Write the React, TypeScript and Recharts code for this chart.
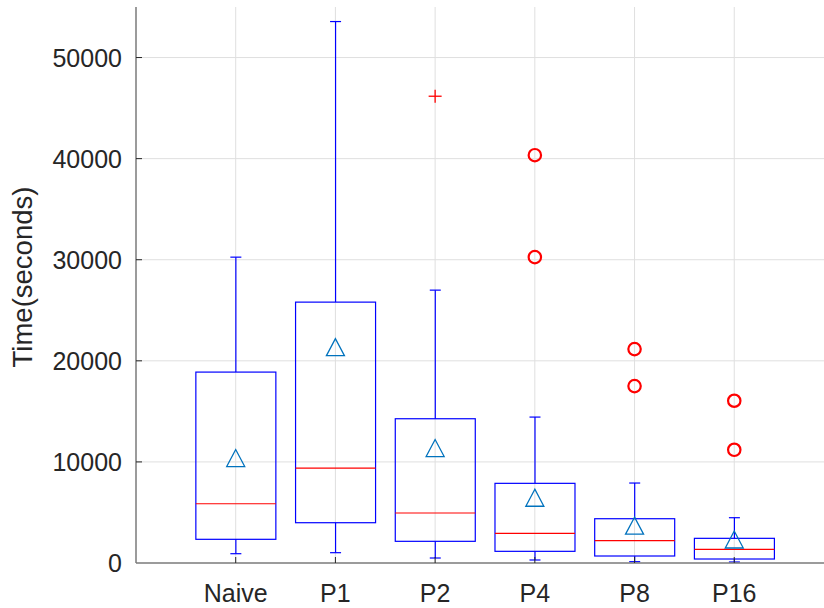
import React from 'react';
import { ComposedChart, Bar, Scatter, XAxis, YAxis, CartesianGrid, Label } from 'recharts';

const categories = ['Naive', 'P1', 'P2', 'P4', 'P8', 'P16'];
const positions = [1, 2, 3, 4, 5, 6];
const whiskerLow = [920, 1020, 494, 297, 130, 99];
const q1 = [2343, 3985, 2145, 1155, 692, 395];
const median = [5863, 9393, 4944, 2935, 2205, 1355];
const q3 = [18885, 25806, 14270, 7880, 4380, 2440];
const whiskerHigh = [30255, 53560, 26992, 14435, 7910, 4480];
const means = [10380, 21357, 11370, 6456, 3690, 2323];

const circleOutlierCats = ['P4', 'P4', 'P8', 'P8', 'P16', 'P16'];
const circleOutlierValues = [40340, 30255, 21160, 17500, 16050, 11200];
const plusOutlierCats = ['P2'];
const plusOutlierValues = [46174];

const yTicks = [0, 10000, 20000, 30000, 40000, 50000];

const FONT = '"Liberation Sans", Arial, Helvetica, sans-serif';
const TEXT = '#262626';
const GRID = '#dfdfdf';

const boxes = categories.map((c, i) => ({
  x: positions[i],
  name: c,
  lo: whiskerLow[i],
  q1: q1[i],
  med: median[i],
  q3: q3[i],
  hi: whiskerHigh[i],
}));
const meanData = categories.map((c, i) => ({ x: positions[i], y: means[i] }));
const posOf = (c: string) => positions[categories.indexOf(c)];
const circleData = circleOutlierCats.map((c, i) => ({ x: posOf(c), y: circleOutlierValues[i] }));
const plusData = plusOutlierCats.map((c, i) => ({ x: posOf(c), y: plusOutlierValues[i] }));

const scaleOf = (axis: any) => {
  const s = axis && axis.scale;
  if (!s) return null;
  if (typeof s === 'function') return (v: number) => s(v);
  if (typeof s.map === 'function') return (v: number) => s.map(v);
  return null;
};

const hGen = (p: any) => {
  const f = scaleOf(p && p.yAxis);
  return f ? yTicks.filter((t) => t !== 0).map((t) => f(t)) : [];
};
const vGen = (p: any) => {
  const f = scaleOf(p && p.xAxis);
  return f ? positions.map((t) => f(t)) : [];
};

const BoxShape = (props: any) => {
  const { x, y, width, height, payload } = props;
  if (x == null || y == null || !payload) return null;
  const top = Math.min(y, y + height);
  const bottom = Math.max(y, y + height);
  const k = (bottom - top) / (payload.hi - payload.lo);
  const Y = (v: number) => bottom - (v - payload.lo) * k;
  const cx = x + width / 2;
  const cap = 5.5;
  const blue = '#0000ff';
  return (
    <g>
      <line x1={cx} x2={cx} y1={Y(payload.hi)} y2={Y(payload.q3)} stroke={blue} strokeWidth={1.2} />
      <line x1={cx} x2={cx} y1={Y(payload.q1)} y2={Y(payload.lo)} stroke={blue} strokeWidth={1.2} />
      <line x1={cx - cap} x2={cx + cap} y1={Y(payload.hi)} y2={Y(payload.hi)} stroke={blue} strokeWidth={1.2} />
      <line x1={cx - cap} x2={cx + cap} y1={Y(payload.lo)} y2={Y(payload.lo)} stroke={blue} strokeWidth={1.2} />
      <rect x={x} y={Y(payload.q3)} width={width} height={Y(payload.q1) - Y(payload.q3)} fill="none" stroke={blue} strokeWidth={1.2} />
      <line x1={x} x2={x + width} y1={Y(payload.med)} y2={Y(payload.med)} stroke="#ff0000" strokeWidth={1.2} />
    </g>
  );
};

const TriangleShape = (props: any) => {
  const { cx, cy } = props;
  if (cx == null || cy == null) return null;
  const w = 9, h = 8.5;
  return (
    <polygon
      points={`${cx},${cy - h} ${cx - w},${cy + h} ${cx + w},${cy + h}`}
      fill="none"
      stroke="#0072BD"
      strokeWidth={1.3}
    />
  );
};

const CircleShape = (props: any) => {
  const { cx, cy } = props;
  if (cx == null || cy == null) return null;
  return <circle cx={cx} cy={cy} r={6.2} fill="none" stroke="#ff0000" strokeWidth={2.2} />;
};

const PlusShape = (props: any) => {
  const { cx, cy } = props;
  if (cx == null || cy == null) return null;
  const s = 6.5;
  return (
    <g stroke="#ff0000" strokeWidth={1.3}>
      <line x1={cx - s} x2={cx + s} y1={cy} y2={cy} />
      <line x1={cx} x2={cx} y1={cy - s} y2={cy + s} />
    </g>
  );
};

const XTick = (props: any) => {
  const { x, y, payload } = props;
  const idx = positions.indexOf(payload.value);
  return (
    <g>
      <line x1={x} x2={x} y1={y} y2={y - 6} stroke={TEXT} strokeWidth={1} />
      <text x={x} y={y + 38.5} textAnchor="middle" fontSize={25} fontFamily={FONT} fill={TEXT}>
        {idx >= 0 ? categories[idx] : ''}
      </text>
    </g>
  );
};

const YTick = (props: any) => {
  const { x, y, payload } = props;
  return (
    <g>
      {payload.value !== 0 && <line x1={x} x2={x + 6} y1={y} y2={y} stroke={TEXT} strokeWidth={1} />}
      <text x={x - 14} y={y + 9} textAnchor="end" fontSize={25} fontFamily={FONT} fill={TEXT}>
        {payload.value}
      </text>
    </g>
  );
};

const YLabel = () => (
  <text
    x={22}
    y={277}
    transform="rotate(-90, 22, 277)"
    textAnchor="middle"
    dominantBaseline="central"
    fontSize={27.5}
    fontFamily={FONT}
    fill={TEXT}
  >
    Time(seconds)
  </text>
);

export default function App() {
  return (
    <div style={{ position: 'absolute', left: 0, top: 0, background: '#fff' }}>
      <ComposedChart
        width={824}
        height={608}
        data={boxes}
        margin={{ top: 7, right: 0, left: 0, bottom: 0 }}
      >
        <CartesianGrid
          stroke={GRID}
          strokeWidth={1}
          horizontalCoordinatesGenerator={hGen}
          verticalCoordinatesGenerator={vGen}
        />
        <XAxis
          dataKey="x"
          type="number"
          domain={[0, 6.9]}
          ticks={positions}
          allowDataOverflow
          height={45}
          tickSize={0}
          tickMargin={0}
          tickLine={false}
          axisLine={{ stroke: '#7a7a7a', strokeWidth: 1.5 }}
          tick={<XTick />}
          interval={0}
        />
        <YAxis
          type="number"
          domain={[0, 55000]}
          ticks={yTicks}
          allowDataOverflow
          width={136}
          tickSize={0}
          tickMargin={0}
          tickLine={false}
          axisLine={{ stroke: '#7a7a7a', strokeWidth: 1.5 }}
          tick={<YTick />}
          interval={0}
        >
          <Label content={<YLabel />} />
        </YAxis>
        <Bar
          dataKey={(d: any) => [d.lo, d.hi]}
          barSize={80}
          shape={<BoxShape />}
          isAnimationActive={false}
        />
        <Scatter data={meanData} dataKey="y" shape={<TriangleShape />} isAnimationActive={false} />
        <Scatter data={circleData} dataKey="y" shape={<CircleShape />} isAnimationActive={false} />
        <Scatter data={plusData} dataKey="y" shape={<PlusShape />} isAnimationActive={false} />
      </ComposedChart>
    </div>
  );
}
